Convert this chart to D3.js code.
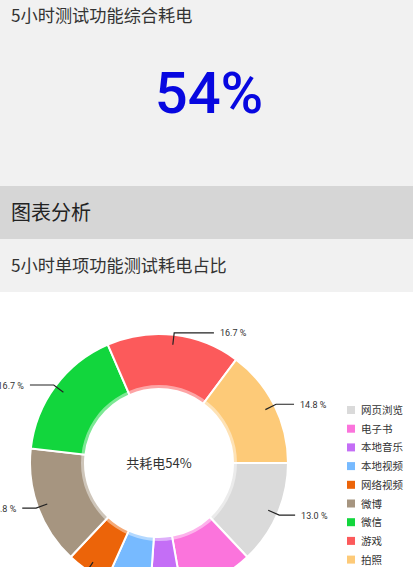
<!DOCTYPE html>
<html lang="zh">
<head>
  <meta charset="UTF-8">
  <title>5小时单项功能测试耗电占比</title>
  <script src="https://d3js.org/d3.v7.min.js"></script>
  <style>
    body { margin: 0; background: #fff; }
    svg { display: block; }
    text { font-family: "Noto Sans CJK SC", "Noto Sans", sans-serif; }
  </style>
</head>
<body>
<div id="chart"></div>
<script>
// data
const categories = ["网页浏览", "电子书", "本地音乐", "本地视频", "网络视频", "微博", "微信", "游戏", "拍照"];
const shares = [13.0, 9.2, 3.9, 5.6, 5.3, 14.8, 16.7, 16.7, 14.8];
const colors = ["#dadada", "#fb74dc", "#c46ef6", "#77baff", "#ec6409", "#a69580", "#12d63d", "#fc5a5b", "#fdca78"];
const totalText = "54%";

const W = 413, H = 567;
const svg = d3.select("#chart").append("svg").attr("width", W).attr("height", H);

// header bands
svg.append("rect").attr("x", 0).attr("y", 0).attr("width", W).attr("height", 186).attr("fill", "#f1f1f1");
svg.append("rect").attr("x", 0).attr("y", 186).attr("width", W).attr("height", 53).attr("fill", "#d6d6d6");
svg.append("rect").attr("x", 0).attr("y", 239).attr("width", W).attr("height", 53).attr("fill", "#f1f1f1");

svg.append("text").attr("x", 11).attr("y", 22).attr("font-size", 17.2).attr("fill", "#333")
  .text("5小时测试功能综合耗电");
svg.append("text").attr("x", 209).attr("y", 113).attr("text-anchor", "middle")
  .attr("font-size", 58).attr("font-weight", 500).attr("fill", "#0707e0")
  .style("font-family", "Roboto, sans-serif")
  .text(totalText);
svg.append("text").attr("x", 11).attr("y", 220).attr("font-size", 20).attr("fill", "#222")
  .text("图表分析");
svg.append("text").attr("x", 11).attr("y", 272).attr("font-size", 17.2).attr("fill", "#333")
  .text("5小时单项功能测试耗电占比");

// donut
const cx = 159, cy = 463, rOuter = 129, rInner = 74;
const g = svg.append("g").attr("transform", `translate(${cx},${cy})`);

const pie = d3.pie().sort(null).value(d => d)
  .startAngle(Math.PI / 2).endAngle(Math.PI / 2 + 2 * Math.PI);
const arcs = pie(shares);
const arc = d3.arc().innerRadius(rInner).outerRadius(rOuter);

g.selectAll("path.slice").data(arcs).join("path")
  .attr("class", "slice")
  .attr("d", arc)
  .attr("fill", (d, i) => colors[i])
  .attr("stroke", "#fff").attr("stroke-width", 2);

// translucent ring around the hole
g.append("path")
  .attr("d", d3.arc().innerRadius(rInner - 1).outerRadius(rInner + 4).startAngle(0).endAngle(2 * Math.PI)())
  .attr("fill", "#fff").attr("opacity", 0.45);

g.append("text").attr("x", 0).attr("y", 5).attr("text-anchor", "middle")
  .attr("font-size", 13).attr("fill", "#333").text("共耗电" + totalText);

// value lines + labels (only those whose label lands inside the view)
const pt = (r, a) => [r * Math.sin(a), -r * Math.cos(a)];
arcs.forEach(d => {
  const a = (d.startAngle + d.endAngle) / 2;
  const p1 = pt(119, a), p2 = pt(131, a);
  const right = Math.sin(a) >= 0;
  const len = 40 * Math.abs(Math.cos(a));
  const p3 = [p2[0] + (right ? len : -len), p2[1]];
  g.append("polyline")
    .attr("points", [p1, p2, p3].map(p => p.join(",")).join(" "))
    .attr("fill", "none").attr("stroke", "#222").attr("stroke-width", 1.2);
  if (cy + p3[1] + 4 > H) return;
  g.append("text")
    .attr("x", p3[0] + (right ? 6 : -6)).attr("y", p3[1] + 3.5)
    .attr("text-anchor", right ? "start" : "end")
    .attr("font-size", 9).attr("fill", "#333")
    .style("font-family", "Roboto, sans-serif")
    .text(d.data.toFixed(1) + " %");
});

// legend
const legend = svg.append("g").attr("transform", "translate(347,410)");
const row = legend.selectAll("g").data(categories).join("g")
  .attr("transform", (d, i) => `translate(0,${i * 18.7})`);
row.append("rect").attr("x", 0).attr("y", -4).attr("width", 8).attr("height", 8)
  .attr("fill", (d, i) => colors[i]);
row.append("text").attr("x", 14).attr("y", 4).attr("font-size", 10.5).attr("fill", "#333")
  .text(d => d);
</script>
</body>
</html>
